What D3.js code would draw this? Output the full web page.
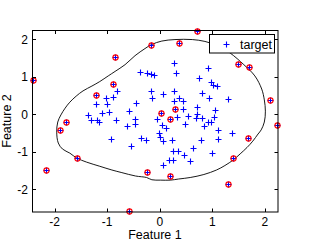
<!DOCTYPE html>
<html>
<head>
<meta charset="utf-8">
<script src="https://cdn.jsdelivr.net/npm/d3@7"></script>
<style>
  body { margin: 0; background: #fff; }
  text { font-family: "Liberation Sans", Arial, sans-serif; fill: #000; }
</style>
</head>
<body>
<script>
const w = 311;
const h = 247;

// plain data points (blue +)
const pointsX = [-0.37, -0.24, -0.16, -0.11, 0.28, 0.30, 0.91, 0.75, 0.97, 1.01, 1.08,
  -0.81, -0.88, -1.02, -1.22, -1.00, -0.45, -1.36, -1.09, -0.96, -1.31, -1.20, -1.15, -0.93,
  -0.58, -0.48, -0.48, -0.62, -0.83, -0.35, -0.26, -0.54,
  -0.16, -0.15, 0.06, 0.28, 0.28, 0.36, 0.44, 0.44, 0.80, 0.94, 1.29, 0.70, 1.06, 0.71,
  0.69, 0.80, 1.03, 0.91, 0.97, 0.84, 1.10, 1.37, 0.54, 0.49, 0.32, 0.78, 1.10, 0.64,
  0.47, 0.99, 0.58, 0.25, 0.34, 0.18, 0.26, 0.06, 0.24, -0.01, 0.01, 0.06, 0.05, 0.12, -0.06];
const pointsY = [1.13, 1.10, 1.07, 1.05, 1.36, 1.09, 1.24, 0.96, 0.87, 0.77, 0.76,
  0.62, 0.45, 0.42, 0.28, 0.26, 0.29, -0.03, 0.03, 0.06, -0.16, -0.16, -0.22, -0.66,
  0.08, -0.13, -0.26, -0.31, -0.16, -0.64, -0.70, -0.84,
  0.63, 0.43, 0.54, 0.63, 0.35, 0.43, 0.36, 0.14, 0.57, 0.44, 0.40, 0.18, 0.12, 0.01,
  -0.10, -0.10, -0.08, -0.22, -0.21, -0.31, -0.43, -0.51, -0.06, -0.25, -0.08, -0.70, -0.66, -0.89,
  -1.09, -1.04, -1.25, -0.98, -0.98, -1.21, -1.23, -1.36, -0.68, -0.51, -0.61, -0.71, -0.28, -0.37, -0.13];

// support vectors (blue + with red o)
const svX = [-2.41, -0.86, -0.88, -1.21, -0.17, -1.78, -1.90, -1.58, -2.16, -0.25, -0.59,
  0.71, 0.37, 1.48, 1.70, 2.10, 2.23, 0.03, 0.20, 0.29, 1.68, 1.40, 1.29, 0.20];
const svY = [0.91, 1.52, 0.80, 0.50, 1.84, -0.22, -0.41, -1.18, -1.49, -1.53, -2.58,
  2.21, 1.89, 1.33, 1.26, 0.38, -0.28, 0.03, -0.14, 0.13, -0.63, -1.18, -1.86, -1.64];

// decision boundary contour
const boundX = [-1.96, -1.94, -1.88, -1.80, -1.71, -1.59, -1.46, -1.29, -1.14, -0.98, -0.85,
  -0.66, -0.47, -0.28, -0.15, 0.04, 0.29, 0.62, 0.86, 1.11, 1.34, 1.60, 1.81, 1.94, 1.99,
  2.01, 1.99, 1.93, 1.87, 1.77, 1.66, 1.53, 1.40, 1.24, 1.08, 0.84, 0.58, 0.36, 0.20, 0.01,
  -0.15, -0.25, -0.46, -0.72, -0.91, -1.14, -1.39, -1.58, -1.71, -1.85, -1.93];
const boundY = [-0.48, -0.21, -0.02, 0.16, 0.32, 0.48, 0.62, 0.75, 0.87, 1.02, 1.14,
  1.32, 1.56, 1.75, 1.86, 1.95, 1.99, 1.99, 1.94, 1.82, 1.63, 1.32, 1.02, 0.67, 0.38,
  0.08, -0.21, -0.42, -0.53, -0.72, -0.89, -1.06, -1.22, -1.37, -1.49, -1.61, -1.69, -1.73, -1.76, -1.76,
  -1.75, -1.69, -1.65, -1.56, -1.49, -1.39, -1.28, -1.17, -1.04, -0.93, -0.77];

const xTicks = [-2, -1, 0, 1, 2];
const yTicks = [-2, -1, 0, 1, 2];

const xScale = d3.scaleLinear().domain([-2.43, 2.25]).range([32, 278]);
const yScale = d3.scaleLinear().domain([-2.61, 2.245]).range([212, 30]);

const svg = d3.select('body')
  .append('svg')
  .attr('width', w)
  .attr('height', h);

const cross = 'M-3,0H3M0,-3V3';

// contour
const line = d3.line()
  .x((d) => xScale(d[0]))
  .y((d) => yScale(d[1]))
  .curve(d3.curveCatmullRomClosed);

svg.append('path')
  .datum(boundX.map((x, i) => [x, boundY[i]]))
  .attr('d', line)
  .attr('fill', 'none')
  .attr('stroke', '#000')
  .attr('stroke-width', 0.9);

// all points as blue +
const allPts = pointsX.map((x, i) => [x, pointsY[i]])
  .concat(svX.map((x, i) => [x, svY[i]]));

svg.selectAll('path.pt')
  .data(allPts)
  .enter()
  .append('path')
  .attr('class', 'pt')
  .attr('d', cross)
  .attr('transform', (d) => 'translate(' + (Math.round(xScale(d[0])) + 0.5) + ',' + (Math.round(yScale(d[1])) + 0.5) + ')')
  .attr('fill', 'none')
  .attr('stroke', '#0000ff')
  .attr('stroke-width', 1.1);

// support vector circles on top
svg.selectAll('circle.sv')
  .data(svX.map((x, i) => [x, svY[i]]))
  .enter()
  .append('circle')
  .attr('class', 'sv')
  .attr('cx', (d) => Math.round(xScale(d[0])) + 0.5)
  .attr('cy', (d) => Math.round(yScale(d[1])) + 0.5)
  .attr('r', 2.6)
  .attr('fill', 'none')
  .attr('stroke', '#ff0000')
  .attr('stroke-width', 1.1);

// axes box with inward ticks
const axes = svg.append('g');
axes.append('rect')
  .attr('x', 32.5)
  .attr('y', 30.5)
  .attr('width', 245.5)
  .attr('height', 181.5)
  .attr('fill', 'none')
  .attr('stroke', '#000')
  .attr('stroke-width', 1);

const tl = 3.5;
xTicks.forEach((t) => {
  const x = Math.round(xScale(t)) + 0.5;
  axes.append('line').attr('x1', x).attr('x2', x).attr('y1', 212).attr('y2', 212 - tl).attr('stroke', '#000');
  axes.append('line').attr('x1', x).attr('x2', x).attr('y1', 30.5).attr('y2', 30.5 + tl).attr('stroke', '#000');
  axes.append('text')
    .attr('x', xScale(t))
    .attr('y', 226)
    .attr('text-anchor', 'middle')
    .style('font-size', '12px')
    .text(t < 0 ? '-' + Math.abs(t) : t);
});
yTicks.forEach((t) => {
  const y = Math.round(yScale(t)) + 0.5;
  axes.append('line').attr('x1', 32.5).attr('x2', 32.5 + tl).attr('y1', y).attr('y2', y).attr('stroke', '#000');
  axes.append('line').attr('x1', 278).attr('x2', 278 - tl).attr('y1', y).attr('y2', y).attr('stroke', '#000');
  axes.append('text')
    .attr('x', 28)
    .attr('y', yScale(t) + 4.5)
    .attr('text-anchor', 'end')
    .style('font-size', '12px')
    .text(t < 0 ? '-' + Math.abs(t) : t);
});

svg.append('text')
  .attr('x', 155)
  .attr('y', 239)
  .attr('text-anchor', 'middle')
  .style('font-size', '12.5px')
  .text('Feature 1');

svg.append('text')
  .attr('transform', 'translate(11,121) rotate(-90)')
  .attr('text-anchor', 'middle')
  .style('font-size', '12.5px')
  .text('Feature 2');

// legend
const legend = svg.append('g');
legend.append('rect')
  .attr('x', 209.5)
  .attr('y', 34.5)
  .attr('width', 65)
  .attr('height', 18.5)
  .attr('fill', '#fff')
  .attr('stroke', '#000');
legend.append('path')
  .attr('d', cross)
  .attr('transform', 'translate(226.5,44.5)')
  .attr('stroke', '#0000ff')
  .attr('stroke-width', 1.1);
legend.append('text')
  .attr('x', 240)
  .attr('y', 48.5)
  .style('font-size', '12.5px')
  .text('target');
</script>
</body>
</html>
